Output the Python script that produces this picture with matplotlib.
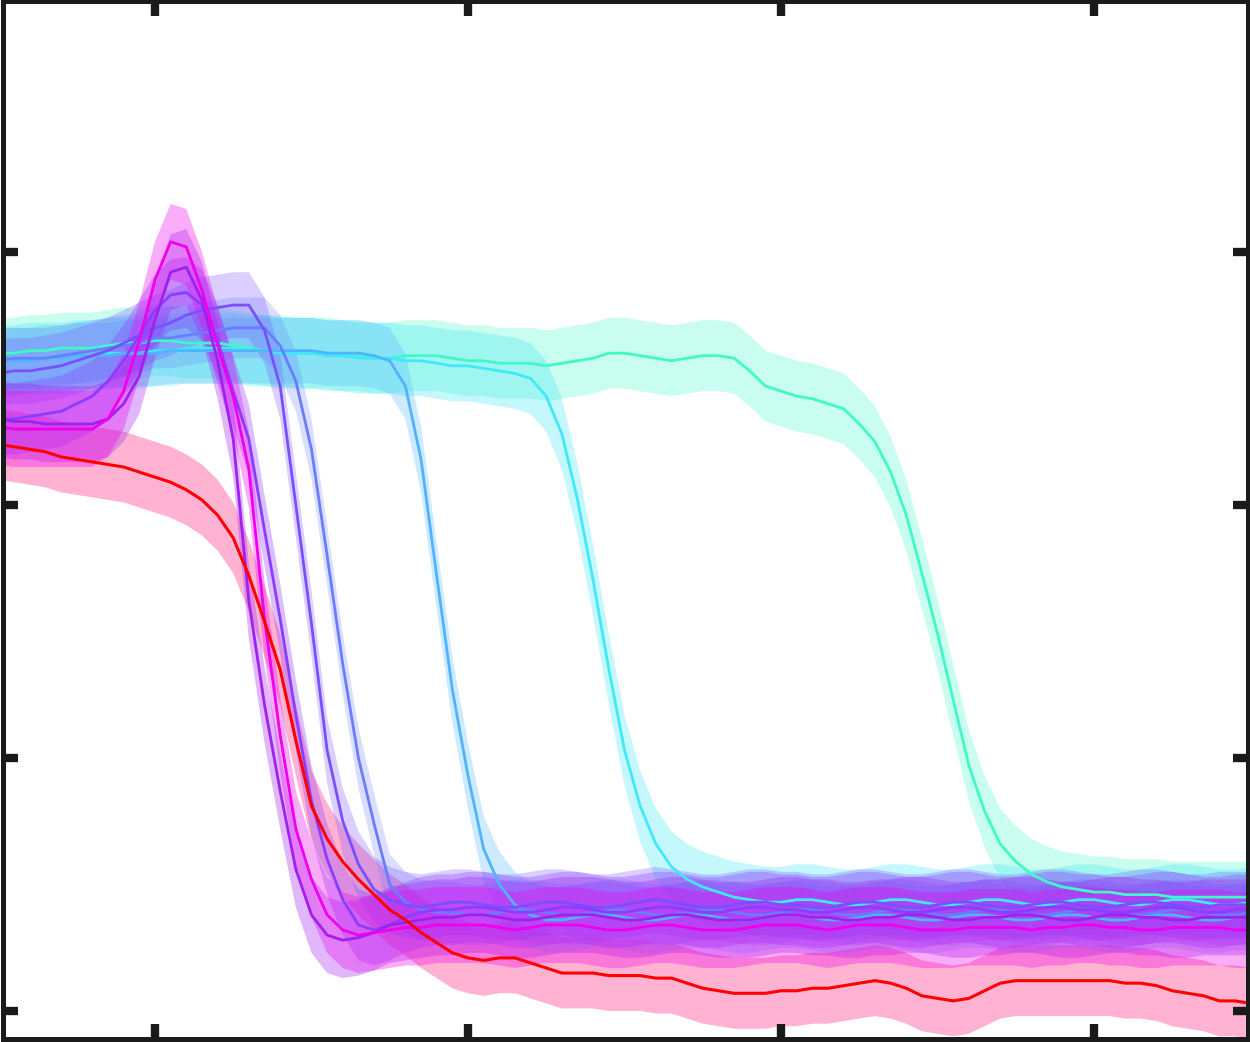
import numpy as np
import matplotlib
matplotlib.use("Agg")
import matplotlib.pyplot as plt

# common time grid
x = np.round(np.arange(-0.5, 3.5001, 0.05), 3)

red = [2.24, 2.23, 2.22, 2.21, 2.19, 2.18, 2.17, 2.16, 2.15, 2.13,
       2.11, 2.09, 2.06, 2.02, 1.96, 1.87, 1.72, 1.54, 1.35, 1.07,
       0.81, 0.68, 0.59, 0.52, 0.46, 0.40, 0.36, 0.31, 0.27, 0.23,
       0.21, 0.20, 0.21, 0.21, 0.19, 0.17, 0.15, 0.15, 0.15, 0.14,
       0.14, 0.14, 0.13, 0.13, 0.11, 0.09, 0.08, 0.07, 0.07, 0.07,
       0.08, 0.08, 0.09, 0.09, 0.10, 0.11, 0.12, 0.11, 0.09, 0.06,
       0.05, 0.04, 0.05, 0.08, 0.11, 0.12, 0.12, 0.12, 0.12, 0.12,
       0.12, 0.12, 0.11, 0.11, 0.10, 0.08, 0.07, 0.06, 0.04, 0.04, 0.03]

s1 = [2.31, 2.30, 2.30, 2.30, 2.30, 2.30, 2.30, 2.34, 2.45, 2.65,
      2.89, 3.04, 3.02, 2.85, 2.63, 2.43, 2.14, 1.55, 1.09, 0.72,
      0.52, 0.38, 0.32, 0.30, 0.31, 0.32, 0.33, 0.33, 0.34, 0.34,
      0.34, 0.34, 0.33, 0.32, 0.33, 0.34, 0.34, 0.34, 0.33, 0.32,
      0.32, 0.33, 0.34, 0.34, 0.33, 0.32, 0.32, 0.32, 0.33, 0.34,
      0.34, 0.34, 0.33, 0.32, 0.33, 0.34, 0.34, 0.34, 0.33, 0.32,
      0.32, 0.32, 0.33, 0.33, 0.33, 0.33, 0.32, 0.33, 0.33, 0.34,
      0.34, 0.33, 0.33, 0.32, 0.32, 0.33, 0.33, 0.33, 0.33, 0.32, 0.32]

s2 = [2.34, 2.33, 2.33, 2.32, 2.32, 2.32, 2.32, 2.34, 2.40, 2.51,
      2.73, 2.92, 2.94, 2.81, 2.57, 2.26, 1.62, 1.21, 0.87, 0.56,
      0.38, 0.30, 0.28, 0.29, 0.31, 0.34, 0.35, 0.36, 0.37, 0.37,
      0.38, 0.38, 0.37, 0.36, 0.36, 0.37, 0.38, 0.38, 0.38, 0.37,
      0.36, 0.36, 0.37, 0.38, 0.38, 0.37, 0.36, 0.36, 0.36, 0.37,
      0.38, 0.38, 0.37, 0.37, 0.36, 0.36, 0.37, 0.37, 0.38, 0.38,
      0.37, 0.36, 0.36, 0.37, 0.37, 0.38, 0.38, 0.37, 0.36, 0.36,
      0.37, 0.38, 0.38, 0.37, 0.37, 0.36, 0.36, 0.37, 0.37, 0.37, 0.37]

s3 = [2.34, 2.34, 2.35, 2.36, 2.37, 2.40, 2.43, 2.49, 2.57, 2.67,
      2.77, 2.83, 2.84, 2.79, 2.65, 2.45, 2.26, 1.90, 1.55, 1.17,
      0.83, 0.60, 0.44, 0.34, 0.32, 0.34, 0.37, 0.39, 0.40, 0.40,
      0.41, 0.41, 0.40, 0.39, 0.39, 0.40, 0.41, 0.41, 0.40, 0.39,
      0.39, 0.40, 0.41, 0.41, 0.40, 0.39, 0.39, 0.40, 0.41, 0.41,
      0.40, 0.40, 0.39, 0.39, 0.40, 0.41, 0.41, 0.40, 0.39, 0.39,
      0.40, 0.41, 0.41, 0.40, 0.39, 0.39, 0.40, 0.41, 0.41, 0.40,
      0.40, 0.39, 0.39, 0.40, 0.41, 0.41, 0.40, 0.39, 0.39, 0.40, 0.40]

s4 = [2.52, 2.53, 2.53, 2.54, 2.55, 2.57, 2.59, 2.61, 2.64, 2.67,
      2.70, 2.72, 2.75, 2.77, 2.78, 2.79, 2.79, 2.69, 2.47, 2.00,
      1.53, 1.03, 0.75, 0.58, 0.48, 0.44, 0.42, 0.41, 0.42, 0.43,
      0.43, 0.42, 0.41, 0.41, 0.42, 0.43, 0.43, 0.42, 0.41, 0.41,
      0.42, 0.43, 0.44, 0.43, 0.42, 0.41, 0.41, 0.42, 0.43, 0.43,
      0.42, 0.42, 0.41, 0.41, 0.42, 0.43, 0.43, 0.42, 0.41, 0.41,
      0.42, 0.43, 0.43, 0.42, 0.41, 0.41, 0.42, 0.43, 0.43, 0.42,
      0.41, 0.41, 0.42, 0.43, 0.43, 0.42, 0.41, 0.41, 0.42, 0.42, 0.42]

s5 = [2.57, 2.58, 2.58, 2.58, 2.59, 2.60, 2.61, 2.62, 2.63, 2.64,
      2.66, 2.66, 2.67, 2.68, 2.69, 2.70, 2.70, 2.70, 2.63, 2.49,
      2.22, 1.80, 1.37, 1.00, 0.74, 0.50, 0.43, 0.40, 0.39, 0.39,
      0.38, 0.38, 0.39, 0.40, 0.40, 0.39, 0.38, 0.38, 0.39, 0.40,
      0.40, 0.39, 0.38, 0.38, 0.39, 0.40, 0.40, 0.39, 0.38, 0.38,
      0.39, 0.40, 0.40, 0.39, 0.38, 0.38, 0.39, 0.40, 0.40, 0.39,
      0.38, 0.38, 0.39, 0.40, 0.40, 0.39, 0.38, 0.38, 0.39, 0.40,
      0.40, 0.39, 0.38, 0.38, 0.39, 0.40, 0.40, 0.39, 0.38, 0.38, 0.39]

s6 = [2.57, 2.57, 2.57, 2.58, 2.58, 2.59, 2.59, 2.59, 2.60, 2.60,
      2.60, 2.61, 2.61, 2.61, 2.61, 2.61, 2.61, 2.61, 2.61, 2.61,
      2.61, 2.60, 2.60, 2.60, 2.59, 2.57, 2.47, 2.18, 1.72, 1.27,
      0.93, 0.64, 0.50, 0.42, 0.38, 0.36, 0.36, 0.37, 0.38, 0.38,
      0.37, 0.36, 0.36, 0.37, 0.38, 0.38, 0.37, 0.36, 0.36, 0.37,
      0.38, 0.38, 0.37, 0.36, 0.36, 0.37, 0.38, 0.38, 0.37, 0.36,
      0.36, 0.37, 0.38, 0.38, 0.37, 0.36, 0.36, 0.37, 0.38, 0.38,
      0.37, 0.36, 0.36, 0.37, 0.38, 0.38, 0.37, 0.36, 0.36, 0.37, 0.37]

s7 = [2.57, 2.57, 2.58, 2.58, 2.58, 2.59, 2.59, 2.60, 2.60, 2.60,
      2.61, 2.61, 2.62, 2.62, 2.62, 2.62, 2.61, 2.61, 2.60, 2.60,
      2.60, 2.59, 2.59, 2.58, 2.58, 2.58, 2.57, 2.57, 2.56, 2.55,
      2.55, 2.54, 2.53, 2.52, 2.50, 2.43, 2.28, 2.02, 1.70, 1.35,
      1.03, 0.81, 0.66, 0.57, 0.52, 0.49, 0.47, 0.45, 0.44, 0.43,
      0.43, 0.44, 0.44, 0.43, 0.42, 0.42, 0.43, 0.44, 0.44, 0.43,
      0.42, 0.42, 0.43, 0.44, 0.44, 0.43, 0.42, 0.42, 0.43, 0.44,
      0.44, 0.43, 0.42, 0.42, 0.43, 0.44, 0.44, 0.43, 0.42, 0.42, 0.43]

s8 = [2.60, 2.60, 2.61, 2.61, 2.62, 2.62, 2.62, 2.63, 2.64, 2.64,
      2.65, 2.65, 2.64, 2.64, 2.64, 2.63, 2.62, 2.61, 2.61, 2.60,
      2.60, 2.60, 2.59, 2.59, 2.58, 2.58, 2.59, 2.59, 2.59, 2.58,
      2.57, 2.57, 2.56, 2.56, 2.56, 2.55, 2.56, 2.57, 2.58, 2.60,
      2.60, 2.59, 2.58, 2.57, 2.58, 2.59, 2.59, 2.58, 2.53, 2.47,
      2.45, 2.43, 2.42, 2.40, 2.38, 2.32, 2.25, 2.13, 1.96, 1.73,
      1.49, 1.23, 0.97, 0.79, 0.66, 0.59, 0.54, 0.51, 0.49, 0.48,
      0.47, 0.47, 0.46, 0.46, 0.46, 0.45, 0.45, 0.45, 0.45, 0.45, 0.45]

series = [s1, s2, s3, s4, s5, s6, s7, s8]
spread = [0.15, 0.15, 0.14, 0.13, 0.12, 0.13, 0.14, 0.14]
red_spread = 0.14
colors = ['#ee00ee', '#a020f0', '#8c3cff', '#7850ff', '#6a7cff',
          '#4fb4ff', '#40e8f8', '#40f8c8']
band_alpha = [0.32, 0.32, 0.32, 0.27, 0.24, 0.28, 0.3, 0.28]

fig = plt.figure(figsize=(12.5, 10.42), dpi=100)
ax = fig.add_axes([0.002, 0.0024, 0.996, 0.9962])

r = np.array(red)
ax.fill_between(x, r - red_spread, r + red_spread, color='#ff5599',
                alpha=0.45, lw=0)
# later (cyan-side) groups go underneath, magenta-side on top
for s, sd, c, a in reversed(list(zip(series, spread, colors, band_alpha))):
    s = np.array(s)
    ax.fill_between(x, s - sd, s + sd, color=c, alpha=a, lw=0)
for s, c in reversed(list(zip(series, colors))):
    ax.plot(x, s, color=c, lw=2.0, solid_joinstyle='round')
ax.plot(x, r, color='#ff0000', lw=2.2, solid_joinstyle='round')

ax.set_xlim(-0.487, 3.490)
ax.set_ylim(-0.1126, 3.99)
ax.set_xticks([0, 1, 2, 3])
ax.set_yticks([0, 1, 2, 3])
ax.tick_params(direction='in', length=11, width=6, color='#1a1a1a',
               top=True, right=True, labelbottom=False, labelleft=False)
for sp in ax.spines.values():
    sp.set_linewidth(3.6)
    sp.set_color('#1a1a1a')

fig.savefig('out.png', dpi=100)
